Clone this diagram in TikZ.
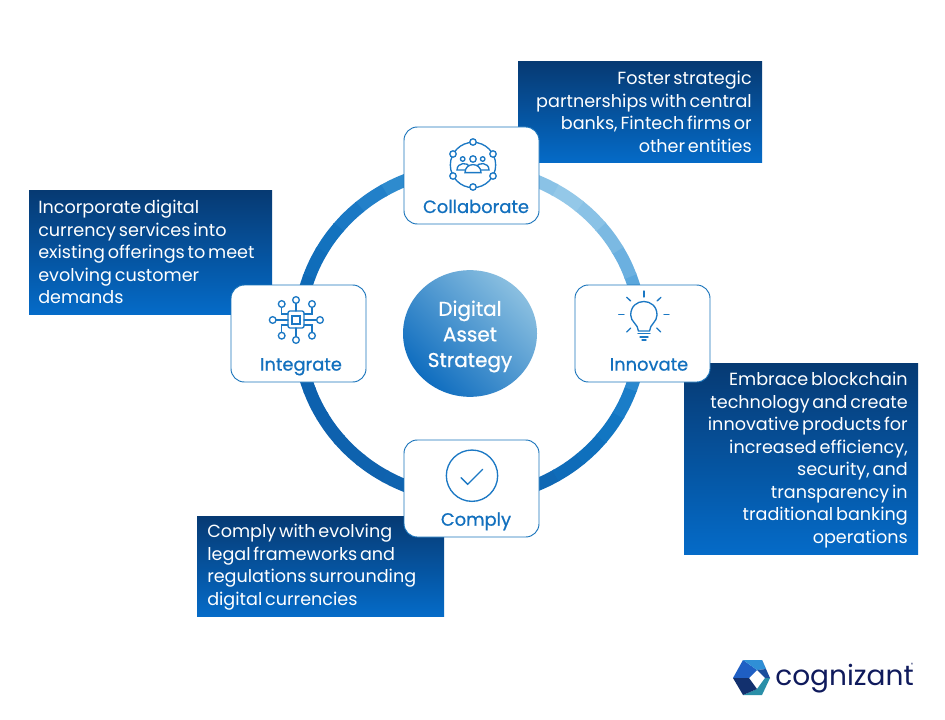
\documentclass[tikz,border=0pt]{standalone}
\usepackage{fontspec}
\setmainfont{Poppins}[WordSpace=0.6]
\newfontfamily\medfont{Poppins}[FakeBold=0.7,WordSpace=0.7]
\definecolor{cardline}{HTML}{1B75BB}
\definecolor{icon}{HTML}{1B78C4}
\definecolor{labelblue}{HTML}{1270BE}
\definecolor{navy}{HTML}{0F1A5C}
\definecolor{boxtop}{HTML}{063A73}
\definecolor{boxbot}{HTML}{056BC8}
\definecolor{ballhi}{HTML}{8ABFE0}
\definecolor{ballmid}{HTML}{2B83CC}
\definecolor{balllo}{HTML}{0F6DBF}
\definecolor{lgA}{HTML}{1F5FC4}
\definecolor{lgB}{HTML}{2F8FD6}
\definecolor{lgC}{HTML}{2A8FA8}
\definecolor{lgD}{HTML}{12306E}
\definecolor{lgE}{HTML}{1B4E9C}
\tikzset{
  x=0.75pt,y=-0.75pt,
  panelbox/.style={top color=boxtop,bottom color=boxbot},
  calltext/.style={text=white,font=\fontsize{13.2}{16.9}\selectfont,inner sep=0pt},
  card/.style={draw=cardline,line width=0.7pt,fill=white,rounded corners=10pt},
  cardlabel/.style={text=labelblue,font=\medfont\fontsize{13.4}{16}\selectfont,inner sep=0pt,anchor=base},
  ico/.style={draw=icon,line width=1pt,fill=white},
  icol/.style={draw=icon,line width=1pt,line cap=round},
}
\begin{document}
\begin{tikzpicture}
\useasboundingbox (0,0) rectangle (945,720);
\fill[white] (0,0) rectangle (945,720);
% ring
\foreach \a/\c in {
 -90/1165B0,-80/1165B0,-70/1068B4,-60/0F6CB9,-50/0F70BD,-40/1276C2,-30/1A7DC8,-20/2A88CE,-10/3A92D4,0/4A9CD8,10/5BA7DC,20/6BB0E0,30/7BB9E2,40/8AC2E6,50/94C8E8,60/8AC2E6,70/78B8E2,80/64ADDD,90/50A0D8,100/3E95D3,110/2E8BCE,120/2280C9,130/1A78C4,140/1372BE,150/106DBA,160/0E69B6,170/0D66B3,180/0D63B0,190/0D62AF,200/0D61AE,210/0E61AE,220/0E62AE,230/0F62AE,240/0F63AF,250/1064AF,260/1065B0}{
  \definecolor{seg}{HTML}{\c}
  \pgfmathsetmacro{\b}{\a+10.6}
  \draw[line width=9.5pt,color=seg,variable=\t] plot[smooth,domain=\a:\b,samples=4] ({470+171*cos(\t)},{333-165*sin(\t)});
}
% callouts
\shade[panelbox] (518,62) rectangle (762,163);
\shade[panelbox] (29,191) rectangle (272,314);
\shade[panelbox] (684,363) rectangle (918,554);
\shade[panelbox] (197,516) rectangle (444,616);
\node[calltext,align=right,anchor=north east] (t1) at (752,71) {Foster strategic\\partnerships with central\\banks, Fintech firms or\\other entities};
\node[calltext,align=left,anchor=north west] (t2) at (38,200) {Incorporate digital\\currency services into\\existing offerings to meet\\evolving customer\\demands};
\node[calltext,align=right,anchor=north east] (t3) at (908,372) {Embrace blockchain\\technology and create\\innovative products for\\increased efficiency,\\security, and\\transparency in\\traditional banking\\operations};
\node[calltext,align=left,anchor=north west] (t4) at (207,524) {Comply with evolving\\legal frameworks and\\regulations surrounding\\digital currencies};
% cards
\draw[card] (404,127) rectangle (539,224);
\draw[card] (231,285) rectangle (366,382);
\draw[card] (575,285) rectangle (710,382);
\draw[card] (404,440) rectangle (539,537);
\node[cardlabel] (l1) at (476,213) {Collaborate};
\node[cardlabel] (l2) at (301,370.6) {Integrate};
\node[cardlabel] (l3) at (649,370.6) {Innovate};
\node[cardlabel] (l4) at (476,525.7) {Comply};
% centre: diagonal gradient, light towards the upper right
\begin{scope}[shift={(470,333.5)},x=1pt,y=1pt]
\shade[bottom color=balllo,middle color=ballmid,top color=ballhi,shading angle=-45] (0,0) ellipse[x radius=50.25pt,y radius=47.5pt];
\end{scope}
\node[text=white,font=\medfont\fontsize{15}{19.2}\selectfont,align=center,inner sep=0pt] (c) at (470,336.5) {Digital\\Asset\\Strategy};
% Collaborate icon
\draw[draw=icon,line width=1pt] (473,165) circle[radius=17pt];
\foreach \x/\y in {473/142,493/154,493/176,473/187,453/176,453/154}{\draw[ico] (\x,\y) circle[radius=2.4pt];}
\draw[ico] (473,159) circle[radius=2.4pt];
\draw[ico] (462.7,159) circle[radius=1.7pt];
\draw[ico] (482.7,159) circle[radius=1.7pt];
\draw[ico] (457,170) .. controls (457,162) and (468,162) .. (470,167) -- (470,170) -- cycle;
\draw[ico] (489,170) .. controls (489,162) and (478,162) .. (476,167) -- (476,170) -- cycle;
\draw[ico] (465,172.6) .. controls (465,162) and (481,162) .. (481,172.6) -- cycle;
% Integrate icon
\draw[ico,rounded corners=1.5pt] (288,311) rectangle (304,328);
\draw[icol] (292,316) rectangle (300,324);
\foreach \xa/\ya/\xb/\yb in {296/311/296/300,296/328/296/340,288/320/273/320,304/320/320/320}{\draw[icol] (\xa,\ya) -- (\xb,\yb);}
\draw[icol] (288,314) -- (281.7,314) -- (281.7,304);
\draw[icol] (304,314) -- (312,314) -- (312,304);
\draw[icol] (288,325) -- (281.7,325) -- (281.7,335.7);
\draw[icol] (304,325) -- (312,325) -- (312,335.7);
\foreach \x/\y in {296/300,296/340,272.7/320,320/320,281.7/304,312/304,281.7/335.7,312/335.7}{\draw[ico] (\x,\y) circle[radius=2.5pt];}
% Innovate icon
\draw[icol] (638.5,331) .. controls (638,324) and (630.7,322) .. (630.7,315) .. controls (630.7,297) and (657,297) .. (657,315) .. controls (657,322) and (650,324) .. (649.5,331) -- cycle;
\draw[icol] (638,333.5) -- (650,333.5);
\draw[icol] (640,337) -- (648,337);
\draw[icol] (642,340) -- (646,340);
\draw[icol] (644,291) -- (644,297);
\draw[icol] (618.7,314.3) -- (624,314.3);
\draw[icol] (664,314.3) -- (669,314.3);
\draw[icol] (626.7,297.3) -- (630.7,301);
\draw[icol] (661,297.3) -- (657,301);
\draw[icol] (626.7,332) -- (630.7,328);
\draw[icol] (660.7,332) -- (656.7,328);
% Comply icon
\draw[draw=icon,line width=1pt] (472,475.7) circle[radius=19.25pt];
\draw[icol] (461,477.7) -- (467.7,484.3) -- (482.7,469.3);
% logo
\fill[lgA] (733,678) -- (743,660) -- (757,670) -- (749,678) -- cycle;
\fill[lgB] (743,660) -- (762,660) -- (766,669) -- (757,670) -- cycle;
\fill[lgE] (762,660) -- (770,678) -- (765,678) -- (757,670) -- (766,669) -- cycle;
\fill[lgC] (770,678) -- (762,695) -- (743,695) -- (757,689) -- (765,678) -- cycle;
\fill[lgD] (733,678) -- (749,678) -- (757,689) -- (743,695) -- cycle;
\node[text=navy,font=\fontsize{21}{24}\selectfont,anchor=base west,inner sep=0pt] (cog) at (775,685) {cognizant};
\node[text=navy,font=\fontsize{3.5}{4}\selectfont,inner sep=0pt] (tm) at (912,665) {®};
\end{tikzpicture}
\end{document}
